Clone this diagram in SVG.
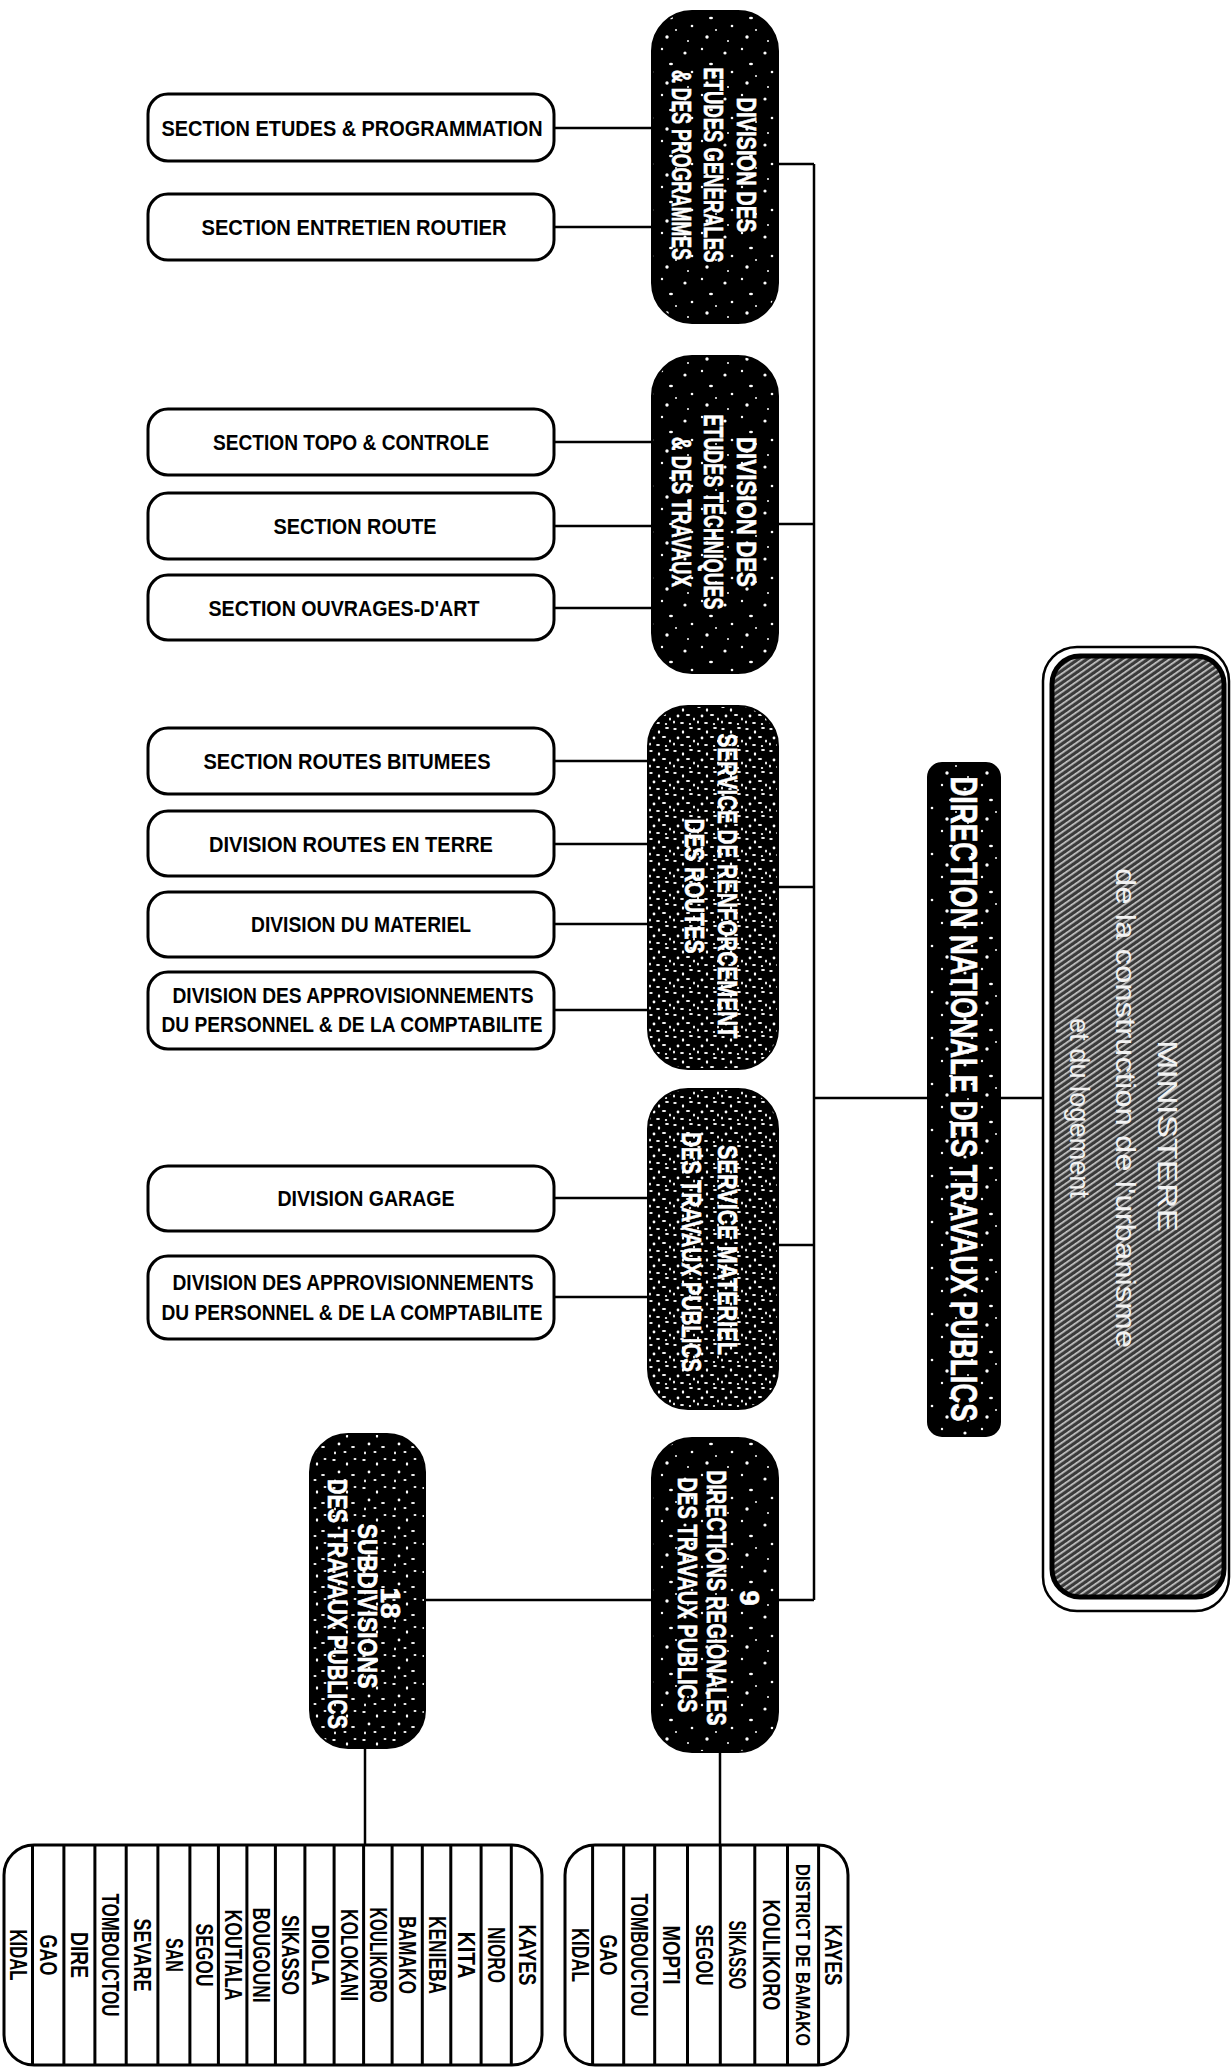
<svg xmlns="http://www.w3.org/2000/svg" width="1231" height="2068" viewBox="0 0 1231 2068">
<style>
.box{fill:#fff;stroke:#000;stroke-width:3}
.dark{stroke:#000;stroke-width:2}
.lt{font-family:"Liberation Sans",Arial,sans-serif;font-weight:bold;font-size:22px;fill:#000;text-anchor:middle}
.wt{font-family:"Liberation Sans",Arial,sans-serif;font-weight:bold;font-size:28px;fill:#fff;stroke:#fff;stroke-width:0.6;text-anchor:middle}
.ls{font-family:"Liberation Sans",Arial,sans-serif;font-weight:bold;font-size:23px;fill:#000;text-anchor:middle}
.mt{font-family:"Liberation Sans",Arial,sans-serif;font-size:28px;fill:#f2f2f2;text-anchor:middle}
.cn{fill:none;stroke:#000;stroke-width:2.5}
.sep{stroke:#000;stroke-width:3}
</style>
<defs>
<pattern id="spk" width="40" height="46" patternUnits="userSpaceOnUse">
<rect width="40" height="46" fill="#000"/>
<circle cx="5" cy="7" r="1.6" fill="#fff"/>
<circle cx="22" cy="3" r="1.2" fill="#fff"/>
<ellipse cx="31" cy="18" rx="2" ry="1.2" fill="#fff"/>
<circle cx="12" cy="26" r="1.3" fill="#fff"/>
<circle cx="27" cy="37" r="1.7" fill="#fff"/>
<circle cx="8" cy="41" r="1" fill="#fff"/>
<circle cx="36" cy="30" r="1" fill="#fff"/>
</pattern>
<pattern id="spkm" width="30" height="28" patternUnits="userSpaceOnUse">
<rect width="30" height="28" fill="#000"/>
<ellipse cx="4" cy="4" rx="1.8" ry="1.1" fill="#fff"/>
<ellipse cx="17" cy="8" rx="1.2" ry="1.8" fill="#fff"/>
<ellipse cx="25" cy="3" rx="1.5" ry="1" fill="#fff"/>
<ellipse cx="9" cy="16" rx="1.4" ry="1.4" fill="#fff"/>
<ellipse cx="23" cy="19" rx="2" ry="1" fill="#fff"/>
<ellipse cx="5" cy="25" rx="1" ry="1.4" fill="#fff"/>
<ellipse cx="15" cy="24" rx="1.6" ry="1" fill="#fff"/>
</pattern>
<pattern id="spkd" width="24" height="22" patternUnits="userSpaceOnUse">
<rect width="24" height="22" fill="#000"/>
<ellipse cx="3" cy="3" rx="1.8" ry="1" fill="#fff"/>
<ellipse cx="11" cy="6" rx="1.2" ry="1.8" fill="#fff"/>
<ellipse cx="19" cy="2" rx="2" ry="1" fill="#fff"/>
<ellipse cx="6" cy="12" rx="1.4" ry="1.4" fill="#fff"/>
<ellipse cx="16" cy="11" rx="2.2" ry="1" fill="#fff"/>
<ellipse cx="22" cy="15" rx="1" ry="1.6" fill="#fff"/>
<ellipse cx="2" cy="18" rx="1" ry="1.6" fill="#fff"/>
<ellipse cx="10" cy="19" rx="2" ry="1.1" fill="#fff"/>
<ellipse cx="18" cy="20" rx="1.2" ry="1" fill="#fff"/>
</pattern>
<pattern id="hatch" width="5" height="5" patternUnits="userSpaceOnUse" patternTransform="rotate(-35)">
<rect width="5" height="5" fill="#3a3a3a"/>
<rect width="5" height="1.7" fill="#c8c8c8"/>
</pattern>
</defs>
<rect width="1231" height="2068" fill="#fff"/>

<g id="connectors">
<path class="cn" d="M814 164V1600"/>
<path class="cn" d="M778 164H814"/>
<path class="cn" d="M778 524H814"/>
<path class="cn" d="M778 887H814"/>
<path class="cn" d="M778 1245H814"/>
<path class="cn" d="M778 1600H814"/>
<path class="cn" d="M814 1098H928"/>
<path class="cn" d="M1000 1098H1043"/>
<path class="cn" d="M425 1600H652"/>
<path class="cn" d="M720 1752V1845"/>
<path class="cn" d="M365 1748V1845"/>
<path class="cn" d="M554 128H652"/>
<path class="cn" d="M554 227H652"/>
<path class="cn" d="M554 442H652"/>
<path class="cn" d="M554 526H652"/>
<path class="cn" d="M554 608H652"/>
<path class="cn" d="M554 761H648"/>
<path class="cn" d="M554 844H648"/>
<path class="cn" d="M554 924H648"/>
<path class="cn" d="M554 1010H648"/>
<path class="cn" d="M554 1198H648"/>
<path class="cn" d="M554 1297H648"/>
</g>

<g id="ministere">
<rect x="1043" y="647" width="186" height="964" rx="34" fill="none" stroke="#000" stroke-width="2.5"/>
<rect x="1052" y="656" width="172" height="941" rx="28" fill="url(#hatch)" stroke="#000" stroke-width="5"/>
<text class="mt" transform="translate(1168,1136) rotate(90)" dy="0.35em" textLength="192" lengthAdjust="spacingAndGlyphs">MINISTERE</text>
<text class="mt" transform="translate(1126,1108) rotate(90)" dy="0.35em" textLength="480" lengthAdjust="spacingAndGlyphs">de la construction de l'urbanisme</text>
<text class="mt" transform="translate(1080,1108) rotate(90)" dy="0.35em" textLength="180" lengthAdjust="spacingAndGlyphs">et du logement</text>
</g>

<g id="direction-nationale">
<rect x="928" y="763" width="72" height="673" rx="14" fill="url(#spk)" stroke="#000" stroke-width="2"/>
<text class="wt" style="font-size:36px" transform="translate(964,1099) rotate(90)" dy="0.35em" textLength="645" lengthAdjust="spacingAndGlyphs">DIRECTION NATIONALE DES TRAVAUX PUBLICS</text>
</g>

<g id="div-etudes-generales">
<rect x="652" y="11" width="126" height="312" rx="40" fill="url(#spk)" class="dark"/>
<text class="wt" transform="translate(747,165) rotate(90)" dy="0.35em" textLength="135" lengthAdjust="spacingAndGlyphs">DIVISION DES</text>
<text class="wt" transform="translate(714,165) rotate(90)" dy="0.35em" textLength="195" lengthAdjust="spacingAndGlyphs">ETUDES GENERALES</text>
<text class="wt" transform="translate(682,165) rotate(90)" dy="0.35em" textLength="190" lengthAdjust="spacingAndGlyphs">&amp; DES PROGRAMMES</text>
</g>

<g id="div-etudes-techniques">
<rect x="652" y="356" width="126" height="317" rx="40" fill="url(#spk)" class="dark"/>
<text class="wt" transform="translate(747,512) rotate(90)" dy="0.35em" textLength="150" lengthAdjust="spacingAndGlyphs">DIVISION DES</text>
<text class="wt" transform="translate(714,512) rotate(90)" dy="0.35em" textLength="195" lengthAdjust="spacingAndGlyphs">ETUDES TECHNIQUES</text>
<text class="wt" transform="translate(682,512) rotate(90)" dy="0.35em" textLength="150" lengthAdjust="spacingAndGlyphs">&amp; DES TRAVAUX</text>
</g>

<g id="service-renforcement">
<rect x="648" y="706" width="130" height="363" rx="40" fill="url(#spkd)" class="dark"/>
<text class="wt" transform="translate(728,886) rotate(90)" dy="0.35em" textLength="305" lengthAdjust="spacingAndGlyphs">SERVICE DE RENFORCEMENT</text>
<text class="wt" transform="translate(695,886) rotate(90)" dy="0.35em" textLength="135" lengthAdjust="spacingAndGlyphs">DES ROUTES</text>
</g>

<g id="service-materiel">
<rect x="648" y="1089" width="130" height="320" rx="40" fill="url(#spkd)" class="dark"/>
<text class="wt" transform="translate(728,1250) rotate(90)" dy="0.35em" textLength="210" lengthAdjust="spacingAndGlyphs">SERVICE MATERIEL</text>
<text class="wt" transform="translate(692,1252) rotate(90)" dy="0.35em" textLength="240" lengthAdjust="spacingAndGlyphs">DES TRAVAUX PUBLICS</text>
</g>

<g id="directions-regionales">
<rect x="652" y="1438" width="126" height="314" rx="40" fill="url(#spk)" class="dark"/>
<text class="wt" transform="translate(750,1598) rotate(90)" dy="0.35em">9</text>
<text class="wt" transform="translate(717,1598) rotate(90)" dy="0.35em" textLength="255" lengthAdjust="spacingAndGlyphs">DIRECTIONS REGIONALES</text>
<text class="wt" transform="translate(688,1595) rotate(90)" dy="0.35em" textLength="235" lengthAdjust="spacingAndGlyphs">DES TRAVAUX PUBLICS</text>
</g>

<g id="subdivisions">
<rect x="310" y="1434" width="115" height="314" rx="38" fill="url(#spkm)" class="dark"/>
<text class="wt" transform="translate(391,1603) rotate(90)" dy="0.35em">18</text>
<text class="wt" transform="translate(368,1606) rotate(90)" dy="0.35em" textLength="165" lengthAdjust="spacingAndGlyphs">SUBDIVISIONS</text>
<text class="wt" transform="translate(338,1604) rotate(90)" dy="0.35em" textLength="250" lengthAdjust="spacingAndGlyphs">DES TRAVAUX PUBLICS</text>
</g>

<g id="sect-etudes-prog">
<rect class="box" x="148" y="94" width="406" height="67" rx="20"/>
<text class="lt" x="352" y="128" dy="0.35em" textLength="381" lengthAdjust="spacingAndGlyphs">SECTION ETUDES &amp; PROGRAMMATION</text>
</g>
<g id="sect-entretien">
<rect class="box" x="148" y="194" width="406" height="66" rx="20"/>
<text class="lt" x="354" y="227" dy="0.35em" textLength="305" lengthAdjust="spacingAndGlyphs">SECTION ENTRETIEN ROUTIER</text>
</g>
<g id="sect-topo">
<rect class="box" x="148" y="409" width="406" height="66" rx="20"/>
<text class="lt" x="351" y="442" dy="0.35em" textLength="276" lengthAdjust="spacingAndGlyphs">SECTION TOPO &amp; CONTROLE</text>
</g>
<g id="sect-route">
<rect class="box" x="148" y="493" width="406" height="66" rx="20"/>
<text class="lt" x="355" y="526" dy="0.35em" textLength="163" lengthAdjust="spacingAndGlyphs">SECTION ROUTE</text>
</g>
<g id="sect-ouvrages">
<rect class="box" x="148" y="575" width="406" height="65" rx="20"/>
<text class="lt" x="344" y="608" dy="0.35em" textLength="271" lengthAdjust="spacingAndGlyphs">SECTION OUVRAGES-D'ART</text>
</g>
<g id="sect-bitumees">
<rect class="box" x="148" y="728" width="406" height="66" rx="20"/>
<text class="lt" x="347" y="761" dy="0.35em" textLength="287" lengthAdjust="spacingAndGlyphs">SECTION ROUTES BITUMEES</text>
</g>
<g id="div-terre">
<rect class="box" x="148" y="811" width="406" height="65" rx="20"/>
<text class="lt" x="351" y="844" dy="0.35em" textLength="284" lengthAdjust="spacingAndGlyphs">DIVISION ROUTES EN TERRE</text>
</g>
<g id="div-materiel">
<rect class="box" x="148" y="892" width="406" height="65" rx="20"/>
<text class="lt" x="361" y="924" dy="0.35em" textLength="220" lengthAdjust="spacingAndGlyphs">DIVISION DU MATERIEL</text>
</g>
<g id="div-appro-1">
<rect class="box" x="148" y="972" width="406" height="77" rx="20"/>
<text class="lt" x="353" y="995" dy="0.35em" textLength="361" lengthAdjust="spacingAndGlyphs">DIVISION DES APPROVISIONNEMENTS</text>
<text class="lt" x="352" y="1024" dy="0.35em" textLength="381" lengthAdjust="spacingAndGlyphs">DU PERSONNEL &amp; DE LA COMPTABILITE</text>
</g>
<g id="div-garage">
<rect class="box" x="148" y="1166" width="406" height="65" rx="20"/>
<text class="lt" x="366" y="1198" dy="0.35em" textLength="177" lengthAdjust="spacingAndGlyphs">DIVISION GARAGE</text>
</g>
<g id="div-appro-2">
<rect class="box" x="148" y="1256" width="406" height="83" rx="20"/>
<text class="lt" x="353" y="1282" dy="0.35em" textLength="361" lengthAdjust="spacingAndGlyphs">DIVISION DES APPROVISIONNEMENTS</text>
<text class="lt" x="352" y="1312" dy="0.35em" textLength="381" lengthAdjust="spacingAndGlyphs">DU PERSONNEL &amp; DE LA COMPTABILITE</text>
</g>

<g id="list-subdivisions">
<rect class="box" x="4" y="1845" width="538" height="220" rx="30"/>
<path class="sep" d="M32.5 1846V2064M63.9 1846V2064M94.9 1846V2064M126.2 1846V2064M157.9 1846V2064M189.9 1846V2064M218.4 1846V2064M246.9 1846V2064M275.4 1846V2064M304.9 1846V2064M334.1 1846V2064M363.6 1846V2064M392.1 1846V2064M422.3 1846V2064M450.8 1846V2064M481.1 1846V2064M511.3 1846V2064"/>
<text class="ls" transform="translate(18,1955) rotate(90)" dy="0.35em" textLength="51" lengthAdjust="spacingAndGlyphs">KIDAL</text>
<text class="ls" transform="translate(48,1955) rotate(90)" dy="0.35em" textLength="41" lengthAdjust="spacingAndGlyphs">GAO</text>
<text class="ls" transform="translate(79,1955) rotate(90)" dy="0.35em" textLength="46" lengthAdjust="spacingAndGlyphs">DIRE</text>
<text class="ls" transform="translate(110,1955) rotate(90)" dy="0.35em" textLength="123" lengthAdjust="spacingAndGlyphs">TOMBOUCTOU</text>
<text class="ls" transform="translate(142,1955) rotate(90)" dy="0.35em" textLength="73" lengthAdjust="spacingAndGlyphs">SEVARE</text>
<text class="ls" transform="translate(174,1955) rotate(90)" dy="0.35em" textLength="34" lengthAdjust="spacingAndGlyphs">SAN</text>
<text class="ls" transform="translate(204,1955) rotate(90)" dy="0.35em" textLength="63" lengthAdjust="spacingAndGlyphs">SEGOU</text>
<text class="ls" transform="translate(233,1955) rotate(90)" dy="0.35em" textLength="91" lengthAdjust="spacingAndGlyphs">KOUTIALA</text>
<text class="ls" transform="translate(261,1955) rotate(90)" dy="0.35em" textLength="95" lengthAdjust="spacingAndGlyphs">BOUGOUNI</text>
<text class="ls" transform="translate(290,1955) rotate(90)" dy="0.35em" textLength="80" lengthAdjust="spacingAndGlyphs">SIKASSO</text>
<text class="ls" transform="translate(320,1955) rotate(90)" dy="0.35em" textLength="61" lengthAdjust="spacingAndGlyphs">DIOLA</text>
<text class="ls" transform="translate(349,1955) rotate(90)" dy="0.35em" textLength="92" lengthAdjust="spacingAndGlyphs">KOLOKANI</text>
<text class="ls" transform="translate(378,1955) rotate(90)" dy="0.35em" textLength="95" lengthAdjust="spacingAndGlyphs">KOULIKORO</text>
<text class="ls" transform="translate(407,1955) rotate(90)" dy="0.35em" textLength="78" lengthAdjust="spacingAndGlyphs">BAMAKO</text>
<text class="ls" transform="translate(437,1955) rotate(90)" dy="0.35em" textLength="78" lengthAdjust="spacingAndGlyphs">KENIEBA</text>
<text class="ls" transform="translate(466,1955) rotate(90)" dy="0.35em" textLength="47" lengthAdjust="spacingAndGlyphs">KITA</text>
<text class="ls" transform="translate(496,1955) rotate(90)" dy="0.35em" textLength="56" lengthAdjust="spacingAndGlyphs">NIORO</text>
<text class="ls" transform="translate(527,1955) rotate(90)" dy="0.35em" textLength="61" lengthAdjust="spacingAndGlyphs">KAYES</text>
</g>

<g id="list-regions">
<rect class="box" x="565" y="1845" width="283" height="220" rx="30"/>
<path class="sep" d="M592.6 1846V2064M623.7 1846V2064M654.7 1846V2064M687.5 1846V2064M720.3 1846V2064M754.8 1846V2064M787.5 1846V2064M818.6 1846V2064"/>
<text class="ls" transform="translate(580,1955) rotate(90)" dy="0.35em" textLength="54" lengthAdjust="spacingAndGlyphs">KIDAL</text>
<text class="ls" transform="translate(608,1955) rotate(90)" dy="0.35em" textLength="41" lengthAdjust="spacingAndGlyphs">GAO</text>
<text class="ls" transform="translate(639,1955) rotate(90)" dy="0.35em" textLength="123" lengthAdjust="spacingAndGlyphs">TOMBOUCTOU</text>
<text class="ls" transform="translate(671,1955) rotate(90)" dy="0.35em" textLength="59" lengthAdjust="spacingAndGlyphs">MOPTI</text>
<text class="ls" transform="translate(704,1955) rotate(90)" dy="0.35em" textLength="61" lengthAdjust="spacingAndGlyphs">SEGOU</text>
<text class="ls" transform="translate(737,1955) rotate(90)" dy="0.35em" textLength="69" lengthAdjust="spacingAndGlyphs">SIKASSO</text>
<text class="ls" transform="translate(771,1955) rotate(90)" dy="0.35em" textLength="111" lengthAdjust="spacingAndGlyphs">KOULIKORO</text>
<text class="ls" style="font-size:21px" transform="translate(803,1955) rotate(90)" dy="0.35em" textLength="182" lengthAdjust="spacingAndGlyphs">DISTRICT DE BAMAKO</text>
<text class="ls" transform="translate(833,1955) rotate(90)" dy="0.35em" textLength="61" lengthAdjust="spacingAndGlyphs">KAYES</text>
</g>
</svg>
